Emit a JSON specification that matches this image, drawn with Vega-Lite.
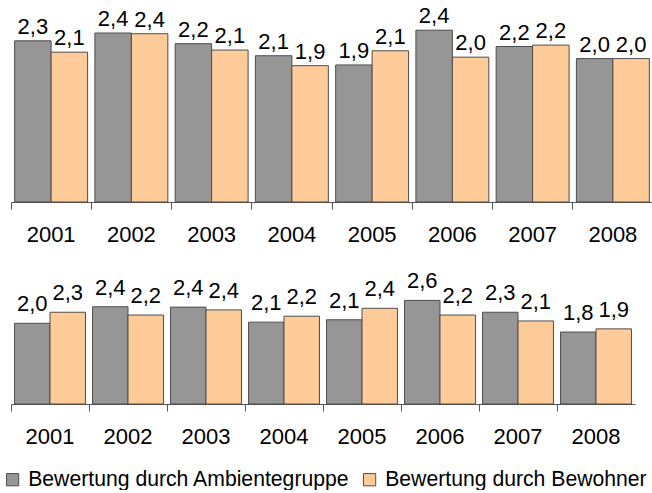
{
  "$schema": "https://vega.github.io/schema/vega-lite/v6.json",
  "padding": {"left": 2, "top": 0, "right": 0, "bottom": 0},
  "background": "white",
  "config": {
    "view": {"stroke": null},
    "font": "Liberation Sans",
    "concat": {"spacing": 21},
    "axisX": {
      "title": null, "labelAngle": 0, "labelFontSize": 22, "labelColor": "#000000",
      "labelFont": "Liberation Sans", "domainColor": "#555555", "tickColor": "#555555",
      "tickSize": 7, "bandPosition": 0, "labelPadding": 15, "grid": false, "labelBound": false, "labelOverlap": false
    },
    "legend": {
      "orient": "none", "legendX": -9, "legendY": 469, "direction": "horizontal",
      "title": null, "symbolType": "square", "symbolSize": 150, "labelFontSize": 21.2,
      "labelFont": "Liberation Sans", "labelColor": "#000000", "columnPadding": 9, "labelOffset": 5,
      "symbolStrokeColor": "#4d4d4d", "symbolStrokeWidth": 1, "labelLimit": 500, "symbolOffset": 0
    }
  },
  "datasets": {
    "top": [
      {"year": "2001", "series": "Bewertung durch Ambientegruppe", "value": 2.27, "label": "2,3"},
      {"year": "2001", "series": "Bewertung durch Bewohner", "value": 2.11, "label": "2,1"},
      {"year": "2002", "series": "Bewertung durch Ambientegruppe", "value": 2.38, "label": "2,4"},
      {"year": "2002", "series": "Bewertung durch Bewohner", "value": 2.37, "label": "2,4"},
      {"year": "2003", "series": "Bewertung durch Ambientegruppe", "value": 2.23, "label": "2,2"},
      {"year": "2003", "series": "Bewertung durch Bewohner", "value": 2.14, "label": "2,1"},
      {"year": "2004", "series": "Bewertung durch Ambientegruppe", "value": 2.06, "label": "2,1"},
      {"year": "2004", "series": "Bewertung durch Bewohner", "value": 1.92, "label": "1,9"},
      {"year": "2005", "series": "Bewertung durch Ambientegruppe", "value": 1.93, "label": "1,9"},
      {"year": "2005", "series": "Bewertung durch Bewohner", "value": 2.13, "label": "2,1"},
      {"year": "2006", "series": "Bewertung durch Ambientegruppe", "value": 2.42, "label": "2,4"},
      {"year": "2006", "series": "Bewertung durch Bewohner", "value": 2.04, "label": "2,0"},
      {"year": "2007", "series": "Bewertung durch Ambientegruppe", "value": 2.19, "label": "2,2"},
      {"year": "2007", "series": "Bewertung durch Bewohner", "value": 2.21, "label": "2,2"},
      {"year": "2008", "series": "Bewertung durch Ambientegruppe", "value": 2.02, "label": "2,0"},
      {"year": "2008", "series": "Bewertung durch Bewohner", "value": 2.02, "label": "2,0"}
    ],
    "bottom": [
      {"year": "2001", "series": "Bewertung durch Ambientegruppe", "value": 2.04, "label": "2,0"},
      {"year": "2001", "series": "Bewertung durch Bewohner", "value": 2.32, "label": "2,3"},
      {"year": "2002", "series": "Bewertung durch Ambientegruppe", "value": 2.46, "label": "2,4"},
      {"year": "2002", "series": "Bewertung durch Bewohner", "value": 2.25, "label": "2,2"},
      {"year": "2003", "series": "Bewertung durch Ambientegruppe", "value": 2.45, "label": "2,4"},
      {"year": "2003", "series": "Bewertung durch Bewohner", "value": 2.38, "label": "2,4"},
      {"year": "2004", "series": "Bewertung durch Ambientegruppe", "value": 2.07, "label": "2,1"},
      {"year": "2004", "series": "Bewertung durch Bewohner", "value": 2.22, "label": "2,2"},
      {"year": "2005", "series": "Bewertung durch Ambientegruppe", "value": 2.13, "label": "2,1"},
      {"year": "2005", "series": "Bewertung durch Bewohner", "value": 2.42, "label": "2,4"},
      {"year": "2006", "series": "Bewertung durch Ambientegruppe", "value": 2.62, "label": "2,6"},
      {"year": "2006", "series": "Bewertung durch Bewohner", "value": 2.25, "label": "2,2"},
      {"year": "2007", "series": "Bewertung durch Ambientegruppe", "value": 2.32, "label": "2,3"},
      {"year": "2007", "series": "Bewertung durch Bewohner", "value": 2.1, "label": "2,1"},
      {"year": "2008", "series": "Bewertung durch Ambientegruppe", "value": 1.82, "label": "1,8"},
      {"year": "2008", "series": "Bewertung durch Bewohner", "value": 1.9, "label": "1,9"}
    ]
  },
  "vconcat": [
    {
      "width": 642,
      "height": 202,
      "data": {"name": "top"},
      "encoding": {
        "x": {"field": "year", "type": "nominal", "scale": {"paddingInner": 0, "paddingOuter": 0}},
        "xOffset": {"field": "series", "type": "nominal", "scale": {"paddingOuter": 0.1, "paddingInner": 0}},
        "y": {"field": "value", "type": "quantitative", "scale": {"domain": [0, 2.845], "nice": false, "zero": true}, "axis": null}
      },
      "layer": [
        {
          "mark": {"type": "bar", "stroke": "#4d4d4d", "strokeWidth": 1},
          "encoding": {
            "color": {
              "field": "series", "type": "nominal",
              "scale": {"domain": ["Bewertung durch Ambientegruppe", "Bewertung durch Bewohner"], "range": ["#969696", "#FFCC99"]}
            }
          }
        },
        {
          "mark": {"type": "text", "baseline": "bottom", "dy": -2, "fontSize": 22, "font": "Liberation Sans", "color": "#000000"},
          "encoding": {"text": {"field": "label", "type": "nominal"}}
        }
      ]
    },
    {
      "width": 624,
      "height": 138,
      "data": {"name": "bottom"},
      "encoding": {
        "x": {"field": "year", "type": "nominal", "scale": {"paddingInner": 0, "paddingOuter": 0}},
        "xOffset": {"field": "series", "type": "nominal", "scale": {"paddingOuter": 0.1, "paddingInner": 0}},
        "y": {"field": "value", "type": "quantitative", "scale": {"domain": [0, 3.49], "nice": false, "zero": true}, "axis": null}
      },
      "layer": [
        {
          "mark": {"type": "bar", "stroke": "#4d4d4d", "strokeWidth": 1},
          "encoding": {
            "color": {
              "field": "series", "type": "nominal",
              "scale": {"domain": ["Bewertung durch Ambientegruppe", "Bewertung durch Bewohner"], "range": ["#969696", "#FFCC99"]}
            }
          }
        },
        {
          "mark": {"type": "text", "baseline": "bottom", "dy": -7, "fontSize": 22, "font": "Liberation Sans", "color": "#000000"},
          "encoding": {"text": {"field": "label", "type": "nominal"}}
        }
      ]
    }
  ],
  "resolve": {"scale": {"x": "independent", "y": "independent", "xOffset": "independent"}}
}
